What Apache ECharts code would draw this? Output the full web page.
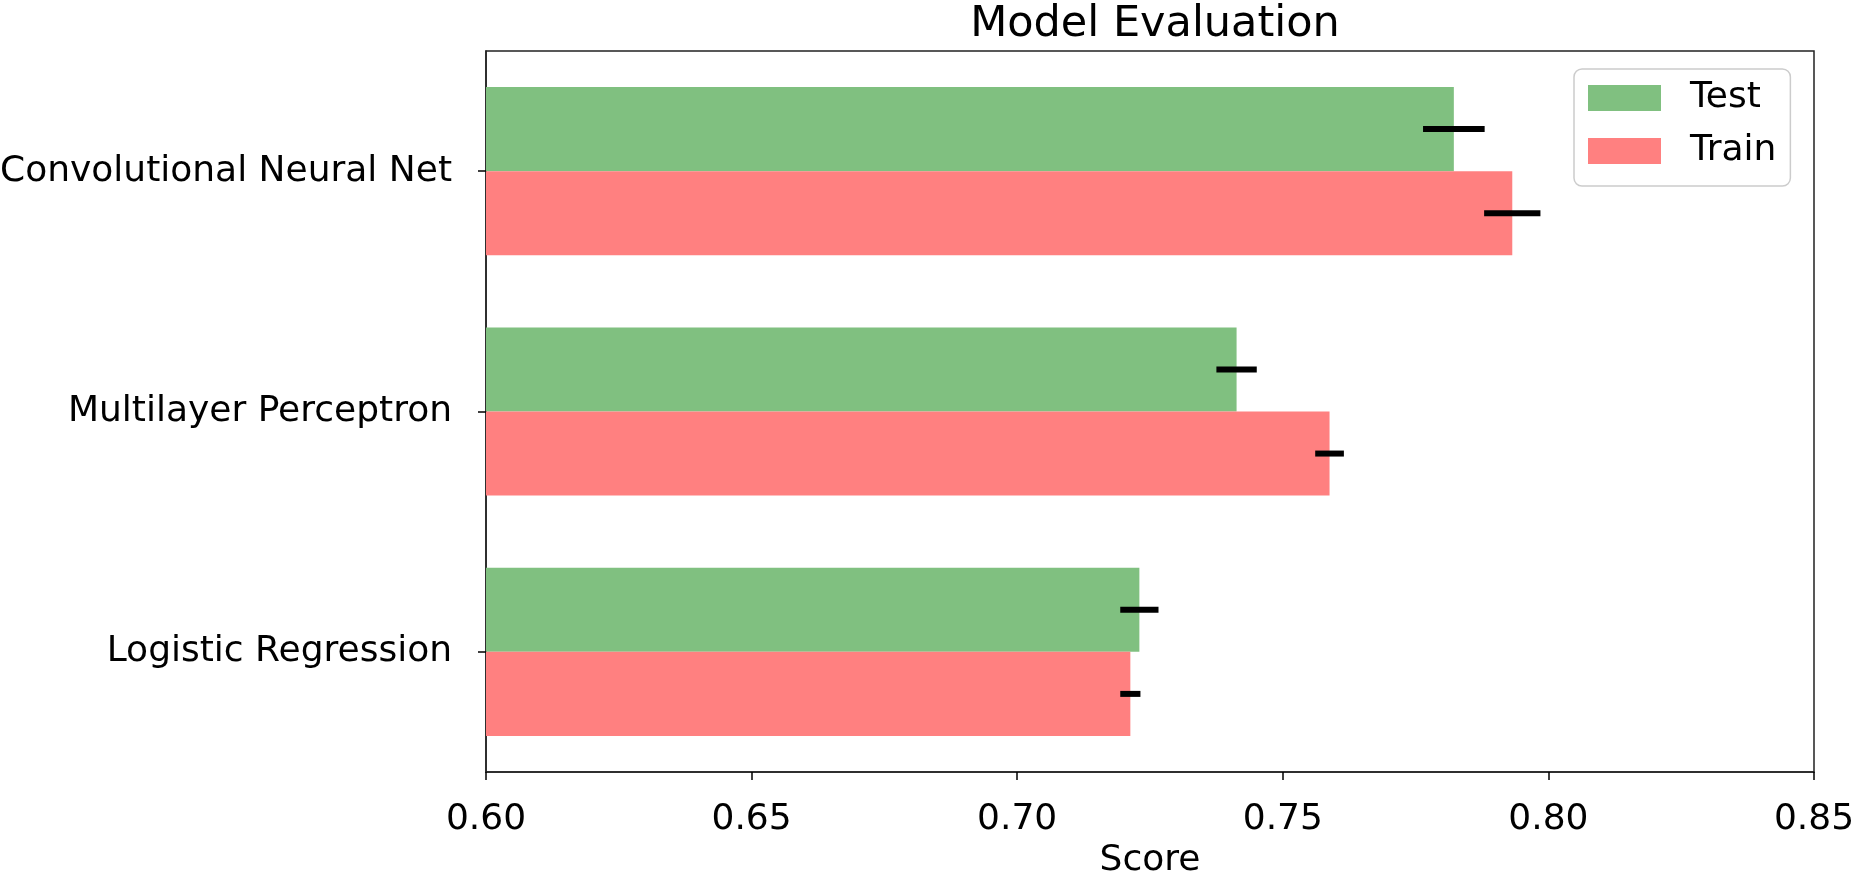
<!DOCTYPE html>
<html>
<head>
<meta charset="utf-8">
<script src="https://cdn.jsdelivr.net/npm/echarts@6/dist/echarts.min.js"></script>
<style>html,body{margin:0;padding:0;background:#fff}#c{width:1852px;height:881px}</style>
</head>
<body>
<div id="c"></div>
<script>
const categories = ['Logistic Regression', 'Multilayer Perceptron', 'Convolutional Neural Net'];
const testScores = [0.7230, 0.7413, 0.7822];
const trainScores = [0.7213, 0.7588, 0.7932];
const testErr = [0.0036, 0.0038, 0.0058];
const trainErr = [0.0019, 0.0027, 0.0053];
const xMin = 0.60, xMax = 0.85, xStep = 0.05;

const FONT = 'DejaVu Sans';
const GREEN = 'rgb(128,192,128)';
const RED = 'rgb(255,128,128)';

function errData(vals, errs, sign) {
  return vals.map((v, i) => [v, i, errs[i], sign]);
}
function renderErr(params, api) {
  const v = api.value(0), c = api.value(1), e = api.value(2), s = api.value(3);
  const p1 = api.coord([v - e, c]);
  const p2 = api.coord([v + e, c]);
  const band = api.size([0, 1])[1];
  const dy = s * 0.175 * band;
  return {
    type: 'line',
    shape: { x1: p1[0], y1: p1[1] + dy, x2: p2[0], y2: p2[1] + dy },
    style: { stroke: '#000', lineWidth: 6 }
  };
}

const chart = echarts.init(document.getElementById('c'));
chart.setOption({
  animation: false,
  backgroundColor: '#fff',
  textStyle: { fontFamily: FONT },
  title: {
    text: 'Model Evaluation',
    left: 1150, textAlign: 'center', top: -2,
    textStyle: { fontFamily: FONT, fontSize: 43, fontWeight: 'normal', color: '#000' }
  },
  legend: {
    orient: 'vertical',
    left: 1574, top: 69,
    data: ['Test', 'Train'],
    icon: 'rect',
    itemWidth: 73, itemHeight: 26, itemGap: 17,
    padding: [11, 14, 17, 14],
    borderColor: '#cccccc', borderWidth: 1.5, borderRadius: 8,
    backgroundColor: 'rgba(255,255,255,0.8)',
    textStyle: { fontFamily: FONT, fontSize: 36, color: '#000', lineHeight: 36, padding: [0, 0, 0, 24] }
  },
  grid: {
    left: 486, right: 38, top: 51, bottom: 109,
    show: true, borderColor: '#222', borderWidth: 1.5,
    outerBoundsMode: 'none', containLabel: false
  },
  xAxis: {
    type: 'value', min: xMin, max: xMax, interval: xStep,
    name: 'Score', nameLocation: 'middle', nameGap: 69,
    nameTextStyle: { fontFamily: FONT, fontSize: 36, color: '#000' },
    axisLine: { show: true, lineStyle: { color: '#222', width: 1.5 } },
    axisTick: { show: true, length: 8, lineStyle: { color: '#000', width: 1.5 } },
    axisLabel: { fontFamily: FONT, fontSize: 36, color: '#000', margin: 30,
      formatter: v => v.toFixed(2) },
    splitLine: { show: false }
  },
  yAxis: {
    type: 'category', data: categories,
    axisLine: { show: true, lineStyle: { color: '#222', width: 1.5 } },
    axisTick: { show: true, length: 8, alignWithLabel: true, lineStyle: { color: '#000', width: 1.5 } },
    axisLabel: { fontFamily: FONT, fontSize: 36, color: '#000', margin: 34 },
    splitLine: { show: false }
  },
  series: [
    { name: 'Test', type: 'bar', data: testScores, barWidth: '35%', barGap: '0%',
      itemStyle: { color: GREEN } },
    { name: 'Train', type: 'bar', data: trainScores, barWidth: '35%', barGap: '0%',
      itemStyle: { color: RED } },
    { name: 'testErr', type: 'custom', renderItem: renderErr, z: 10,
      encode: { x: 0, y: 1 }, data: errData(testScores, testErr, -1) },
    { name: 'trainErr', type: 'custom', renderItem: renderErr, z: 10,
      encode: { x: 0, y: 1 }, data: errData(trainScores, trainErr, 1) }
  ]
});
</script>
</body>
</html>
